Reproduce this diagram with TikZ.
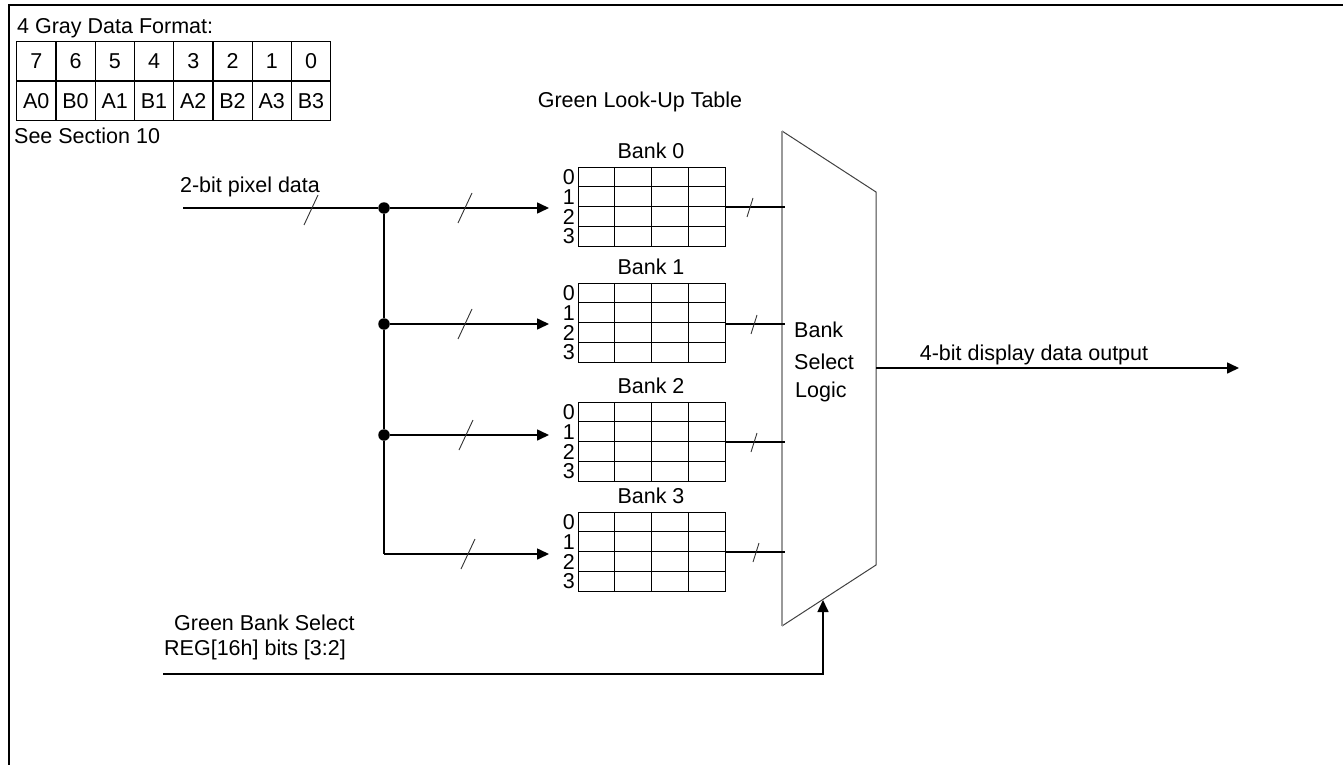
\documentclass[tikz,border=0pt]{standalone}
\usepackage{fontspec}
\setmainfont{Liberation Sans}
\usetikzlibrary{arrows.meta}
\begin{document}
\begin{tikzpicture}[x=1pt,y=-1pt,
  txt/.style={font=\fontsize{21.5}{24}\selectfont, inner sep=0pt},
  cell/.style={draw, line width=1.3pt, minimum width=39.25pt, minimum height=39.5pt, inner sep=0pt, font=\fontsize{21.5}{24}\selectfont},
  wire/.style={line width=1.6pt},
  arr/.style={wire, -{Triangle[length=12pt,width=11pt]}},
  slash/.style={line width=0.9pt, black!80},
  jdot/.style={circle, fill, inner sep=0pt, minimum size=11.5pt},
  lut/.style={draw, line width=1.3pt, minimum width=147pt, minimum height=79pt, inner sep=0pt, anchor=north west},
  rowlab/.style={txt, anchor=east}
]
\useasboundingbox (0,0) rectangle (1343,765);
% frame
\draw[line width=2.6pt] (1343,5) -- (9,5) -- (9,765);

% gray data format
\node[txt, anchor=west] (gtitle) at (17,28) {4 Gray Data Format:};
\foreach \t [count=\i from 0] in {7,6,5,4,3,2,1,0}
  \node[cell, anchor=north west] (top\i) at ({16+39.25*\i},41) {\t};
\foreach \t [count=\i from 0] in {A0,B0,A1,B1,A2,B2,A3,B3}
  \node[cell, anchor=north west] (bot\i) at ({16+39.25*\i},80.5) {\t};
\node[txt, anchor=west] (sect) at (14,136) {See Section 10};

% titles
\node[txt] (lutt) at (640,102) {Green Look-Up Table};

% LUT banks
\foreach \k/\ty in {0/167,1/283,2/402,3/512} {
  \node[lut] (b\k) at (578,\ty) {};
  \node[txt] (bt\k) at (651,{\ty-16}) {Bank \k};
  \foreach \c in {1,2,3}
    \draw[line width=1.3pt] ({578+36.75*\c},\ty) -- ({578+36.75*\c},{\ty+79});
  \foreach \r in {1,2,3}
    \draw[line width=1.3pt] (578,{\ty+19.75*\r}) -- (725,{\ty+19.75*\r});
  \foreach \r in {0,1,2,3}
    \node[rowlab] (l\k\r) at (575,{\ty+10.5+19.5*\r}) {\r};
}

% input
\node[txt] (pix) at (250,187) {2-bit pixel data};
\coordinate (in) at (183,208);
\node[jdot] (j0) at (384,208) {};
\node[jdot] (j1) at (384,324) {};
\node[jdot] (j2) at (384,435) {};
\coordinate (j3) at (384,554);
\draw[wire] (in) -- (j0);
\draw[wire] (j0) -- (j1) -- (j2) -- (j3);
\coordinate (a0) at (549,208);
\coordinate (a1) at (549,324);
\coordinate (a2) at (549,435);
\coordinate (a3) at (549,554);
\draw[arr] (j0) -- (a0);
\draw[arr] (j1) -- (a1);
\draw[arr] (j2) -- (a2);
\draw[arr] (j3) -- (a3);
\draw[slash] (304,225) -- (318,195);
\draw[slash] (458,223) -- (472,193);
\draw[slash] (458,339) -- (472,309);
\draw[slash] (459,450) -- (473,420);
\draw[slash] (461,569) -- (475,539);

% mux
\coordinate (mtl) at (782,131);
\coordinate (mtr) at (876,192);
\coordinate (mbr) at (876,565);
\coordinate (mbl) at (782,626);
\draw[line width=1pt, black!75] (mtl) -- (mtr) -- (mbr) -- (mbl);
\draw[line width=1.6pt, black!40] (mtl) -- (mbl);
\node[txt, anchor=west] (m1) at (794,330) {Bank};
\node[txt, anchor=west] (m2) at (794,362) {Select};
\node[txt, anchor=west] (m3) at (795,392) {Logic};

% bank outputs
\coordinate (o0) at (785,207);
\coordinate (o1) at (785,324);
\coordinate (o2) at (785,442);
\coordinate (o3) at (785,552);
\draw[wire] (b0.east |- o0) -- (o0);
\draw[wire] (b1.east |- o1) -- (o1);
\draw[wire] (b2.east |- o2) -- (o2);
\draw[wire] (b3.east |- o3) -- (o3);
\draw[slash] (747,217) -- (753,198);
\draw[slash] (751,334) -- (757,315);
\draw[slash] (751,452) -- (757,433);
\draw[slash] (753,562) -- (759,543);

% output
\coordinate (mout) at (876,368);
\coordinate (out) at (1239,368);
\draw[arr] (mout) -- (out);
\node[txt] (outl) at (1034,355) {4-bit display data output};

% select
\node[txt, anchor=west] (s1) at (174,623) {Green Bank Select};
\node[txt, anchor=west] (s2) at (164,650) {REG[16h] bits [3:2]};
\coordinate (sin) at (163,674);
\coordinate (sc) at (823,674);
\coordinate (stip) at (823,600);
\draw[arr] (sin) -- (sc) -- (stip);
\end{tikzpicture}
\end{document}
